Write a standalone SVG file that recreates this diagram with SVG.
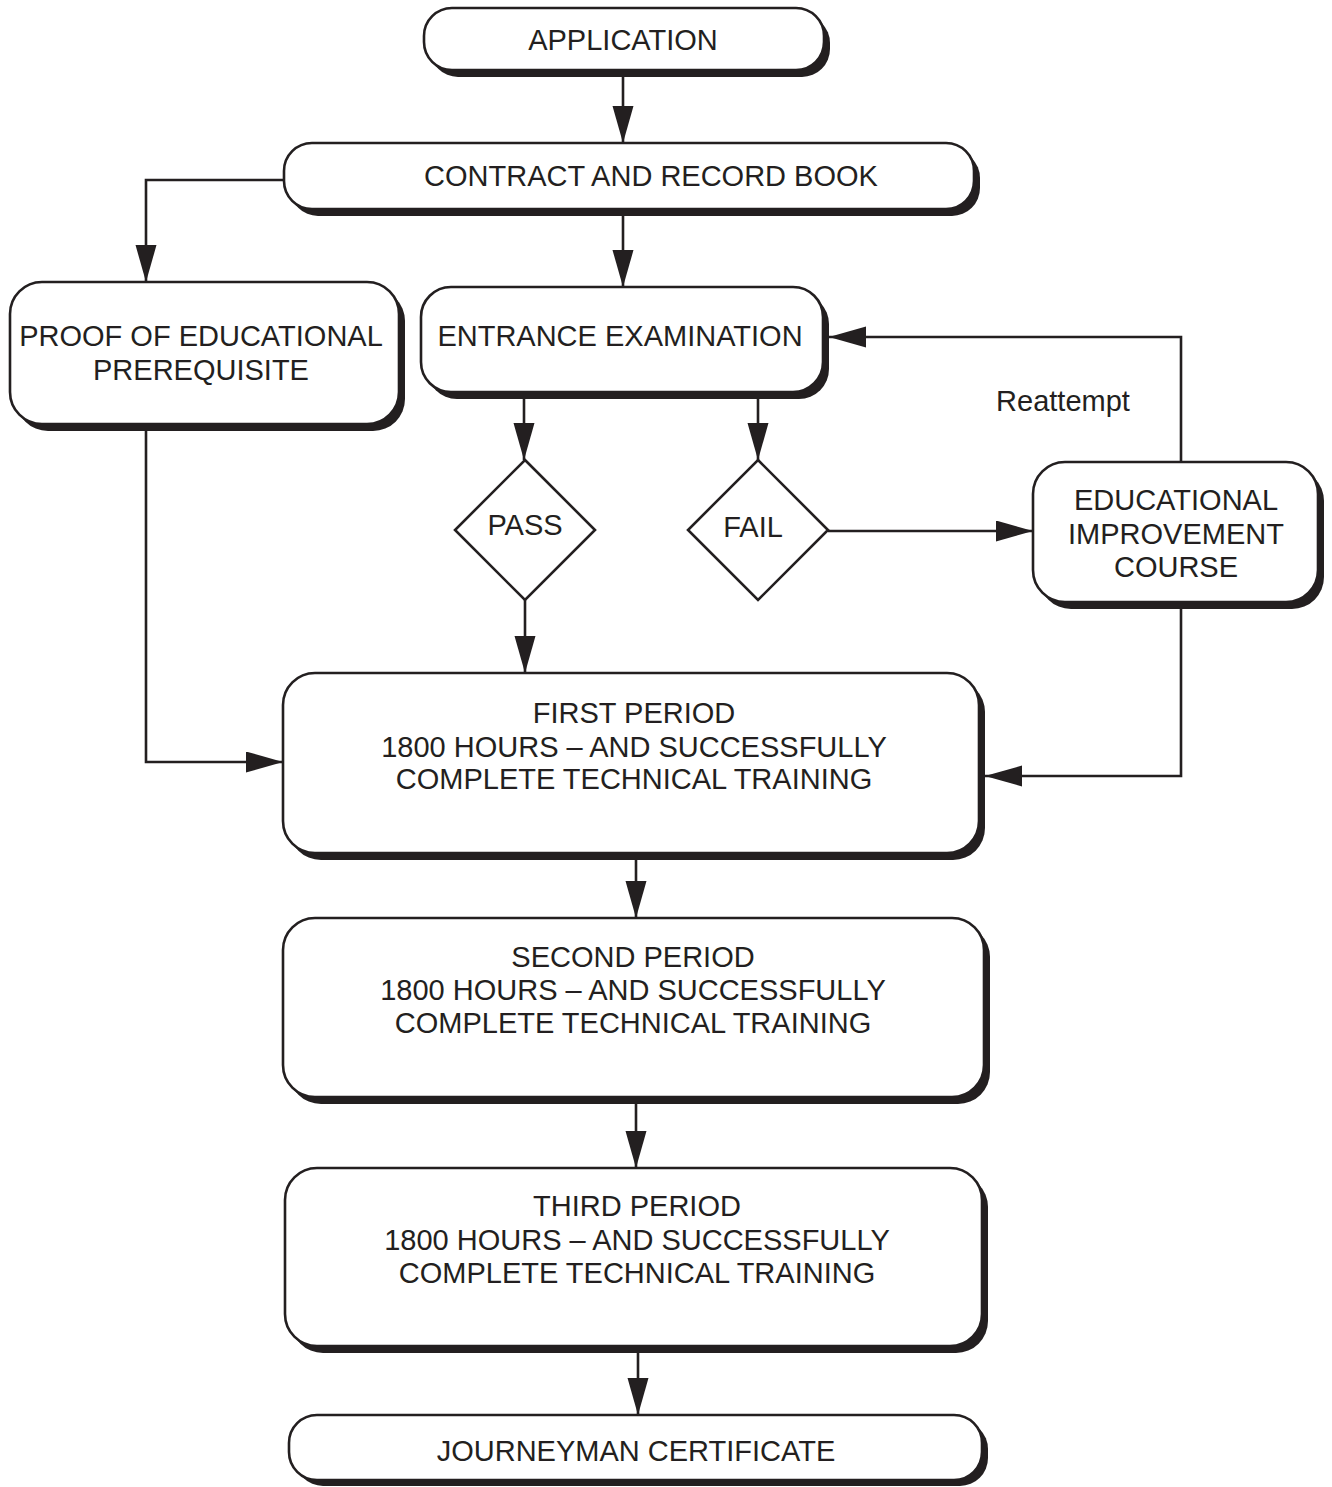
<svg xmlns="http://www.w3.org/2000/svg" width="1332" height="1487" viewBox="0 0 1332 1487">
<style>
.bx{fill:#fff;stroke:#231f20;stroke-width:2.6}
.sh{fill:#231f20}
.dm{fill:#fff;stroke:#231f20;stroke-width:2.6}
.t{font-family:"Liberation Sans",Arial,sans-serif;font-size:29px;fill:#231f20;text-anchor:middle}
.c{fill:none;stroke:#231f20;stroke-width:2.6}
</style>
<defs>
<marker id="ah" markerUnits="userSpaceOnUse" markerWidth="38" markerHeight="22" refX="37" refY="10.5" orient="auto">
<path d="M0,0 L37,10.5 L0,21 Z" fill="#231f20"/>
</marker>
</defs>
<rect width="1332" height="1487" fill="#fff"/>
<g id="connectors">
<path class="c" d="M623,70 V143" marker-end="url(#ah)"/>
<path class="c" d="M284,180 H146 V282" marker-end="url(#ah)"/>
<path class="c" d="M623,209 V287" marker-end="url(#ah)"/>
<path class="c" d="M524,398 V460" marker-end="url(#ah)"/>
<path class="c" d="M758,398 V460" marker-end="url(#ah)"/>
<path class="c" d="M828,531 H1033" marker-end="url(#ah)"/>
<path class="c" d="M1181,462 V337 H829" marker-end="url(#ah)"/>
<path class="c" d="M1181,608 V776 H985" marker-end="url(#ah)"/>
<path class="c" d="M146,431 V762 H283" marker-end="url(#ah)"/>
<path class="c" d="M525,600 V673" marker-end="url(#ah)"/>
<path class="c" d="M636,859 V918" marker-end="url(#ah)"/>
<path class="c" d="M636,1103 V1168" marker-end="url(#ah)"/>
<path class="c" d="M638,1352 V1415" marker-end="url(#ah)"/>
</g>
<g id="application">
<rect class="sh" x="430" y="15" width="400" height="62" rx="28"/>
<rect class="bx" x="424" y="8" width="400" height="62" rx="28"/>
<text class="t" x="623" y="50">APPLICATION</text>
</g>
<g id="contract">
<rect class="sh" x="290" y="150" width="690" height="66" rx="28"/>
<rect class="bx" x="284" y="143" width="690" height="66" rx="28"/>
<text class="t" x="651" y="186">CONTRACT AND RECORD BOOK</text>
</g>
<g id="proof">
<rect class="sh" x="16" y="289" width="389" height="142" rx="32"/>
<rect class="bx" x="10" y="282" width="389" height="142" rx="32"/>
<text class="t" x="201" y="346">PROOF OF EDUCATIONAL</text>
<text class="t" x="201" y="380">PREREQUISITE</text>
</g>
<g id="entrance">
<rect class="sh" x="427" y="294" width="402" height="105" rx="30"/>
<rect class="bx" x="421" y="287" width="402" height="105" rx="30"/>
<text class="t" x="620" y="346">ENTRANCE EXAMINATION</text>
</g>
<g id="pass">
<polygon class="dm" points="525,460 595,530 525,600 455,530"/>
<text class="t" x="525" y="535">PASS</text>
</g>
<g id="fail">
<polygon class="dm" points="758,460 828,530 758,600 688,530"/>
<text class="t" x="753" y="537">FAIL</text>
</g>
<g id="reattempt-label">
<text class="t" x="1063" y="411">Reattempt</text>
</g>
<g id="improvement">
<rect class="sh" x="1039" y="469" width="285" height="140" rx="32"/>
<rect class="bx" x="1033" y="462" width="285" height="140" rx="32"/>
<text class="t" x="1176" y="510">EDUCATIONAL</text>
<text class="t" x="1176" y="544">IMPROVEMENT</text>
<text class="t" x="1176" y="577">COURSE</text>
</g>
<g id="first">
<rect class="sh" x="289" y="680" width="696" height="180" rx="32"/>
<rect class="bx" x="283" y="673" width="696" height="180" rx="32"/>
<text class="t" x="634" y="723">FIRST PERIOD</text>
<text class="t" x="634" y="757">1800 HOURS – AND SUCCESSFULLY</text>
<text class="t" x="634" y="789">COMPLETE TECHNICAL TRAINING</text>
</g>
<g id="second">
<rect class="sh" x="289" y="925" width="701" height="179" rx="32"/>
<rect class="bx" x="283" y="918" width="701" height="179" rx="32"/>
<text class="t" x="633" y="967">SECOND PERIOD</text>
<text class="t" x="633" y="1000">1800 HOURS – AND SUCCESSFULLY</text>
<text class="t" x="633" y="1033">COMPLETE TECHNICAL TRAINING</text>
</g>
<g id="third">
<rect class="sh" x="291" y="1175" width="697" height="178" rx="32"/>
<rect class="bx" x="285" y="1168" width="697" height="178" rx="32"/>
<text class="t" x="637" y="1216">THIRD PERIOD</text>
<text class="t" x="637" y="1250">1800 HOURS – AND SUCCESSFULLY</text>
<text class="t" x="637" y="1283">COMPLETE TECHNICAL TRAINING</text>
</g>
<g id="journeyman">
<rect class="sh" x="295" y="1421" width="693" height="65" rx="28"/>
<rect class="bx" x="289" y="1415" width="693" height="65" rx="28"/>
<text class="t" x="636" y="1461">JOURNEYMAN CERTIFICATE</text>
</g>
</svg>
